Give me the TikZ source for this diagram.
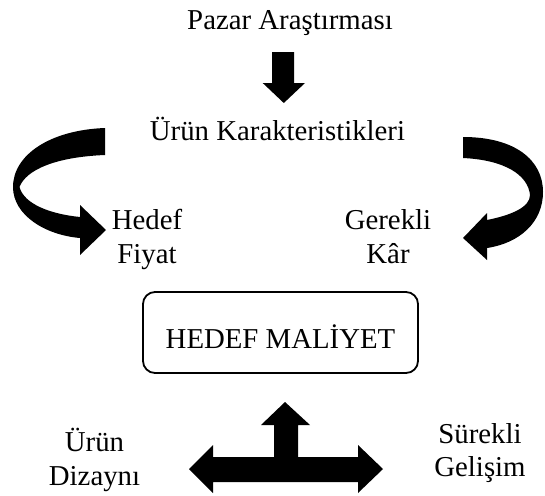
\documentclass[tikz,border=0pt]{standalone}
\usepackage{fontspec}
\setmainfont{Liberation Serif}
\begin{document}
\begin{tikzpicture}[x=1pt,y=-1pt,
  txt/.style={inner sep=0pt,font=\fontsize{28.8}{33.3}\selectfont},
  lbl/.style={txt,align=center,anchor=base},
  blk/.style={fill=black,draw=none},
  boxnode/.style={txt,draw,line width=1.8pt,rounded corners=12pt,
    minimum width=275pt,minimum height=81pt,text height=31pt,text depth=0pt}]
\useasboundingbox (0,0) rectangle (545,495);

% labels (two-line labels are placed by the baseline of their last line)
\node[lbl] (pazar) at (290,30) {Pazar Araştırması};
\node[lbl] (urun) at (277.5,140) {Ürün Karakteristikleri};
\node[lbl] (fiyat) at (147,263) {Hedef\\Fiyat};
\node[lbl] (kar) at (388,263) {Gerekli\\Kâr};
\node[boxnode] (hedef) at (280.5,332.5) {HEDEF MALİYET};
\node[lbl] (dizayn) at (94.5,485) {Ürün\\Dizaynı};
\node[lbl] (gelisim) at (480,476.7) {Sürekli\\Gelişim};

% block arrow: market research -> product characteristics
\fill[blk] (272,52) -- (294,52) -- (294,83) -- (305,83) -- (283.8,103)
  -- (262.7,83) -- (272,83) -- cycle;

% curved arrow on the left, towards the target price
\fill[blk] (105,128) .. controls (50,130) and (13,155) .. (13,187)
  .. controls (13,215) and (45,235) .. (80,238)
  -- (80,255) -- (106,230) -- (80,205) -- (80,217)
  .. controls (50,214) and (24,204) .. (19.5,187)
  .. controls (26,170) and (55,157) .. (105,155) -- cycle;

% curved arrow on the right, towards the required profit
\fill[blk] (463,137) .. controls (515,137) and (543,160) .. (543,192)
  .. controls (543,222) and (520,243) .. (487,248)
  -- (487,260) -- (463,238) -- (487,213) -- (487,220)
  .. controls (512,215) and (530,207) .. (530,195)
  .. controls (528,175) and (505,160) .. (463,158) -- cycle;

% three-way arrow below the target cost box
\fill[blk] (285,402) -- (310,425) -- (298,425) -- (298,457) -- (358,457)
  -- (358,445) -- (383,469) -- (358,493) -- (358,482) -- (213,482)
  -- (213,493) -- (189,469) -- (213,445) -- (213,457) -- (274,457)
  -- (274,425) -- (261,425) -- cycle;
\end{tikzpicture}
\end{document}
